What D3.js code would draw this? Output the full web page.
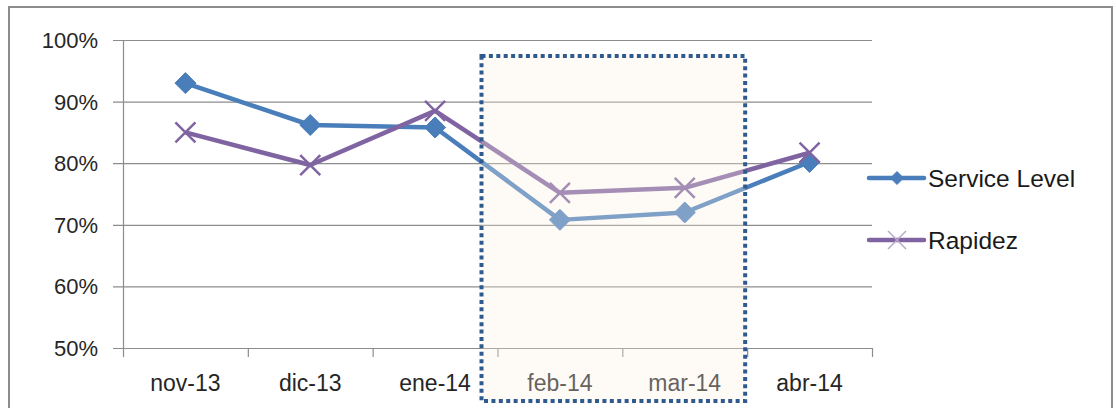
<!DOCTYPE html>
<meta charset="utf-8">
<body style="margin:0;background:#fff">
<script src="https://d3js.org/d3.v7.min.js"></script>
<script>
var categories = ["nov-13", "dic-13", "ene-14", "feb-14", "mar-14", "abr-14"];
var serviceLevel = [0.93, 0.862, 0.858, 0.708, 0.72, 0.802];
var rapidez = [0.85, 0.797, 0.885, 0.752, 0.76, 0.817];
var yTicks = [0.5, 0.6, 0.7, 0.8, 0.9, 1.0];
var highlighted = ["feb-14", "mar-14"];

var svg = d3.select("body").append("svg")
    .attr("width", 1116)
    .attr("height", 408)
    .style("font-family", "Liberation Sans, Arial, sans-serif");

// outer frame
svg.append("rect")
    .attr("x", 9).attr("y", 7)
    .attr("width", 1103).attr("height", 410)
    .attr("fill", "#fff")
    .attr("stroke", "#8c8c8c")
    .attr("stroke-width", 2);

var margin = {top: 40, left: 123},
    width = 749,
    height = 308,
    g = svg.append("g").attr("transform", "translate(" + margin.left + "," + margin.top + ")");

var x = d3.scaleBand().domain(categories).range([0, width]);
var y = d3.scaleLinear().domain([0.5, 1]).range([height, 0]);

// gridlines
g.selectAll(".grid").data(yTicks).enter().append("line")
    .attr("x1", -10).attr("x2", width)
    .attr("y1", function(d) { return y(d) + 0.5; })
    .attr("y2", function(d) { return y(d) + 0.5; })
    .attr("stroke", "#8c8c8c").attr("stroke-width", 1.2);

// y axis line
g.append("line")
    .attr("x1", 0.5).attr("x2", 0.5).attr("y1", 0).attr("y2", height)
    .attr("stroke", "#8c8c8c").attr("stroke-width", 1.2);

// x ticks
var tickPos = categories.map(function(c) { return x(c); }).concat([width]);
g.selectAll(".xt").data(tickPos).enter().append("line")
    .attr("x1", function(d) { return d + 0.5; })
    .attr("x2", function(d) { return d + 0.5; })
    .attr("y1", height).attr("y2", height + 9)
    .attr("stroke", "#8c8c8c").attr("stroke-width", 1.2);

// y labels
g.selectAll(".yl").data(yTicks).enter().append("text")
    .attr("x", -25)
    .attr("y", function(d) { return y(d); })
    .attr("dy", "0.36em")
    .attr("text-anchor", "end")
    .attr("font-size", 22)
    .attr("fill", "#262626")
    .text(d3.format(".0%"));

// x labels
g.selectAll(".xl").data(categories).enter().append("text")
    .attr("x", function(d) { return x(d) + x.bandwidth() / 2; })
    .attr("y", height + 43)
    .attr("text-anchor", "middle")
    .attr("font-size", 23)
    .attr("fill", "#262626")
    .text(function(d) { return d; });

var series = [
    {name: "Service Level", values: serviceLevel, color: "#4a7ebb", marker: "diamond"},
    {name: "Rapidez", values: rapidez, color: "#8064a2", marker: "x"}
];

var line = d3.line()
    .x(function(d, i) { return x(categories[i]) + x.bandwidth() / 2; })
    .y(function(d) { return y(d); });

function diamond(r) {
    return "M0," + (-r) + "L" + r + ",0L0," + r + "L" + (-r) + ",0Z";
}
function cross(r) {
    return "M" + (-r) + "," + (-r) + "L" + r + "," + r + "M" + (-r) + "," + r + "L" + r + "," + (-r);
}

series.forEach(function(s) {
    g.append("path")
        .datum(s.values)
        .attr("fill", "none")
        .attr("stroke", s.color)
        .attr("stroke-width", 4.5)
        .attr("stroke-linejoin", "round")
        .attr("d", line);

    g.selectAll(null).data(s.values).enter().append("path")
        .attr("transform", function(d, i) {
            return "translate(" + (x(categories[i]) + x.bandwidth() / 2) + "," + y(d) + ")";
        })
        .attr("d", s.marker === "diamond" ? diamond(10.5) : cross(10))
        .attr("fill", s.marker === "diamond" ? s.color : "none")
        .attr("stroke", s.color)
        .attr("stroke-width", s.marker === "diamond" ? 1 : 2.5);
});

// highlight box over feb/mar
var hx0 = x(highlighted[0]) - 16,
    hx1 = x(highlighted[highlighted.length - 1]) + x.bandwidth() - 2;
g.append("rect")
    .attr("x", hx0).attr("y", 16)
    .attr("width", hx1 - hx0).attr("height", height + 53 - 16)
    .attr("fill", "rgb(251,241,228)")
    .attr("fill-opacity", 0.3)
    .attr("stroke", "#2f5a8e")
    .attr("stroke-width", 4)
    .attr("stroke-dasharray", "4,3.4");

// legend
var legend = svg.append("g").attr("transform", "translate(869,178)");
series.forEach(function(s, i) {
    var lg = legend.append("g").attr("transform", "translate(0," + (i * 62) + ")");
    lg.append("line")
        .attr("x1", 0).attr("x2", 55)
        .attr("stroke", s.color).attr("stroke-width", 4.5)
        .attr("stroke-linecap", "round");
    lg.append("path")
        .attr("transform", "translate(28,0)")
        .attr("d", s.marker === "diamond" ? diamond(6.5) : cross(9))
        .attr("fill", s.marker === "diamond" ? s.color : "none")
        .attr("stroke", s.marker === "diamond" ? s.color : "#b7a8cc")
        .attr("stroke-width", s.marker === "diamond" ? 1 : 1.5);
    lg.append("text")
        .attr("x", 59)
        .attr("dy", "0.36em")
        .attr("font-size", 24.5)
        .attr("fill", "#1a1a1a")
        .text(s.name);
});
</script>
</body>
